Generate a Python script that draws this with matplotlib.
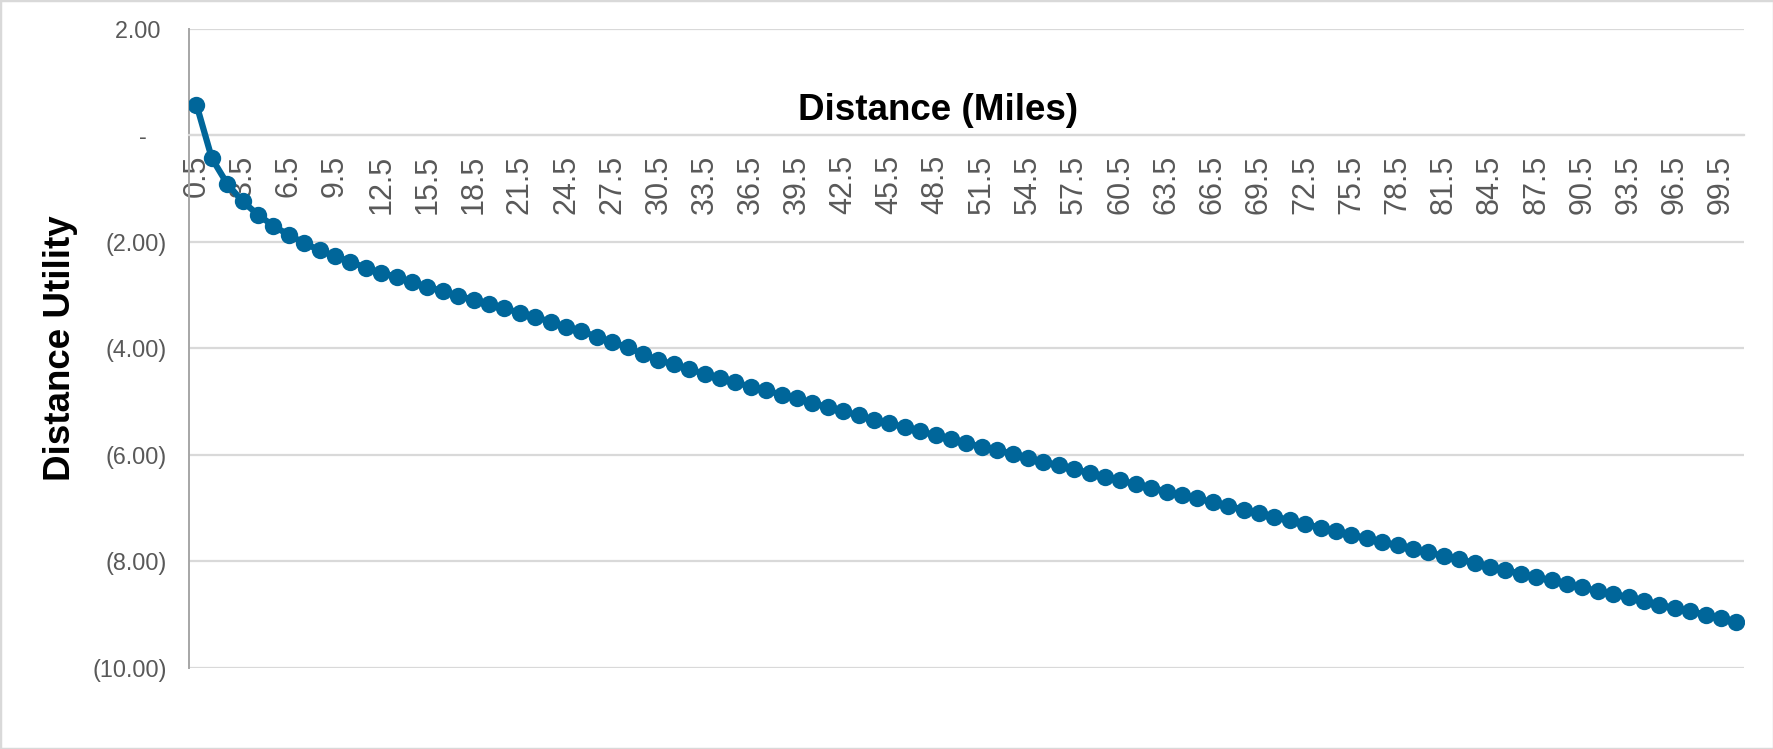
import matplotlib
matplotlib.use('Agg')
import matplotlib.pyplot as plt
import numpy as np
from matplotlib.patches import Rectangle

plt.rcParams['font.family'] = ['Liberation Sans', 'DejaVu Sans']

# distance categories (miles) and the utility for each
distance = np.arange(0.5, 101.0, 1.0)
utility = [
    0.58, -0.43, -0.91, -1.24, -1.49, -1.70, -1.87, -2.02, -2.16, -2.27,
    -2.37, -2.49, -2.58, -2.66, -2.76, -2.84, -2.93, -3.01, -3.09, -3.16,
    -3.25, -3.33, -3.41, -3.50, -3.60, -3.68, -3.78, -3.88, -3.98, -4.11,
    -4.22, -4.30, -4.39, -4.48, -4.56, -4.64, -4.72, -4.79, -4.87, -4.94,
    -5.02, -5.11, -5.18, -5.26, -5.34, -5.41, -5.48, -5.56, -5.63, -5.70,
    -5.78, -5.85, -5.91, -5.98, -6.06, -6.13, -6.20, -6.27, -6.34, -6.41,
    -6.48, -6.55, -6.62, -6.69, -6.76, -6.82, -6.89, -6.96, -7.03, -7.09,
    -7.16, -7.23, -7.30, -7.37, -7.44, -7.50, -7.57, -7.64, -7.70, -7.77,
    -7.83, -7.90, -7.96, -8.03, -8.10, -8.16, -8.24, -8.30, -8.36, -8.43,
    -8.49, -8.56, -8.61, -8.68, -8.75, -8.82, -8.88, -8.94, -9.00, -9.07,
    -9.14,
]
y_ticks = [2, 0, -2, -4, -6, -8, -10]
y_labels = ['2.00 ', '-   ', '(2.00)', '(4.00)', '(6.00)', '(8.00)', '(10.00)']

blue = '#00669a'
grey_text = '#595959'
grid_col = '#d9d9d9'

fig = plt.figure(figsize=(17.74, 7.49), dpi=100)
ax = fig.add_axes([0.1064, 0.1085, 0.8767, 0.8528])

ax.plot(distance, utility, color=blue, lw=4.5, marker='o', ms=12.5,
        markeredgewidth=0, zorder=3)

ax.set_xlim(0, 101)
ax.set_ylim(-10, 2)

ax.set_yticks(y_ticks)
ax.set_yticklabels(y_labels)
ax.set_xticks(distance[::3])
ax.set_xticklabels([f'{d:g}' for d in distance[::3]])

ax.yaxis.grid(True, color=grid_col, lw=1.6)
ax.set_axisbelow(True)

ax.tick_params(axis='y', length=0, pad=16, labelsize=16.8, labelcolor=grey_text)
ax.tick_params(axis='x', length=0, pad=14, labelsize=22, labelcolor=grey_text,
               labelrotation=90)

for s in ['top', 'right']:
    ax.spines[s].set_visible(False)
ax.spines['bottom'].set_position(('data', 0))
ax.spines['bottom'].set_color(grid_col)
ax.spines['bottom'].set_linewidth(1.6)
ax.spines['left'].set_color('#a6a6a6')
ax.spines['left'].set_linewidth(1.4)

ax.set_ylabel('Distance Utility', fontsize=26.5, fontweight='bold', labelpad=0)
ax.yaxis.set_label_coords(-0.071, 0.5)
fig.text(938.5 / 1774, 1 - 120 / 749, 'Distance (Miles)', fontsize=26.5,
         fontweight='bold', ha='center', va='baseline')

# light frame round the whole chart
fig.add_artist(Rectangle((0, 0), 1, 1, transform=fig.transFigure, fill=False,
                         ec=grid_col, lw=2.5))

fig.savefig('out.png', dpi=100)
